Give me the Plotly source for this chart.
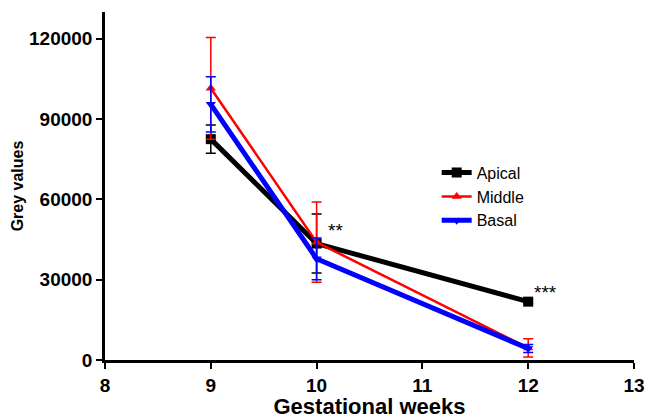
import plotly.graph_objects as go

weeks = [9, 10, 12]
apical = [82500, 43500, 21800]
apical_err = [5300, 11000, 700]
middle = [101500, 44000, 4500]
middle_err = [19000, 15000, 3400]
basal = [95500, 37800, 4300]
basal_err = [10300, 7800, 1500]

x_ticks = [8, 9, 10, 11, 12, 13]
y_ticks = [0, 30000, 60000, 90000, 120000]

annot_text = ["**", "***"]
annot_x = [10.09, 12.04]
annot_y = [48500, 25400]

FONT = "Liberation Sans, Arial"

fig = go.Figure()

def add(name, y, err, color, lw, symbol, msize):
    fig.add_trace(go.Scatter(
        x=weeks, y=y, name=name, mode="lines+markers",
        line=dict(color=color, width=lw),
        marker=dict(symbol=symbol, size=msize, color=color),
        error_y=dict(type="data", array=err, visible=True, color=color,
                     thickness=1.5, width=5),
    ))

add("Apical", apical, apical_err, "black", 5, "square", 10)
add("Middle", middle, middle_err, "#ff0000", 2.5, "triangle-up", 9)
add("Basal", basal, basal_err, "#0000ff", 5, "triangle-down", 9)

for t, x, y in zip(annot_text, annot_x, annot_y):
    fig.add_annotation(x=x, y=y, text=t, showarrow=False, xanchor="left",
                       font=dict(family=FONT, size=19, color="black"))

fig.update_layout(
    width=646, height=419,
    margin=dict(l=105, r=12, t=12, b=59),
    paper_bgcolor="white", plot_bgcolor="white",
    font=dict(family=FONT, color="black"),
    showlegend=True,
    legend=dict(x=0.627, y=0.587, xanchor="left", yanchor="top",
                bgcolor="rgba(0,0,0,0)", font=dict(size=16),
                itemwidth=30, tracegroupgap=0),
    xaxis=dict(range=[8, 13], tickvals=x_ticks,
               ticktext=[f"<b>{v}</b>" for v in x_ticks],
               showline=True, linecolor="black", linewidth=2.5,
               ticks="outside", ticklen=6, tickwidth=2, tickcolor="black",
               showgrid=False, zeroline=False, automargin=False,
               tickfont=dict(size=19),
               title=dict(text="<b>Gestational weeks</b>", font=dict(size=22), standoff=6)),
    yaxis=dict(range=[0, 130000], tickvals=y_ticks,
               ticktext=[f"<b>{v}</b>" for v in y_ticks],
               showline=True, linecolor="black", linewidth=2.5,
               ticks="outside", ticklen=6, tickwidth=2, tickcolor="black",
               showgrid=False, zeroline=False, automargin=False,
               tickfont=dict(size=19),
               title=dict(text="<b>Grey values</b>", font=dict(size=16), standoff=2)),
)

fig.write_html(
    "out.html",
    config={"displayModeBar": False},
    post_script="document.body.style.margin='0';document.documentElement.style.overflow='hidden';",
)
